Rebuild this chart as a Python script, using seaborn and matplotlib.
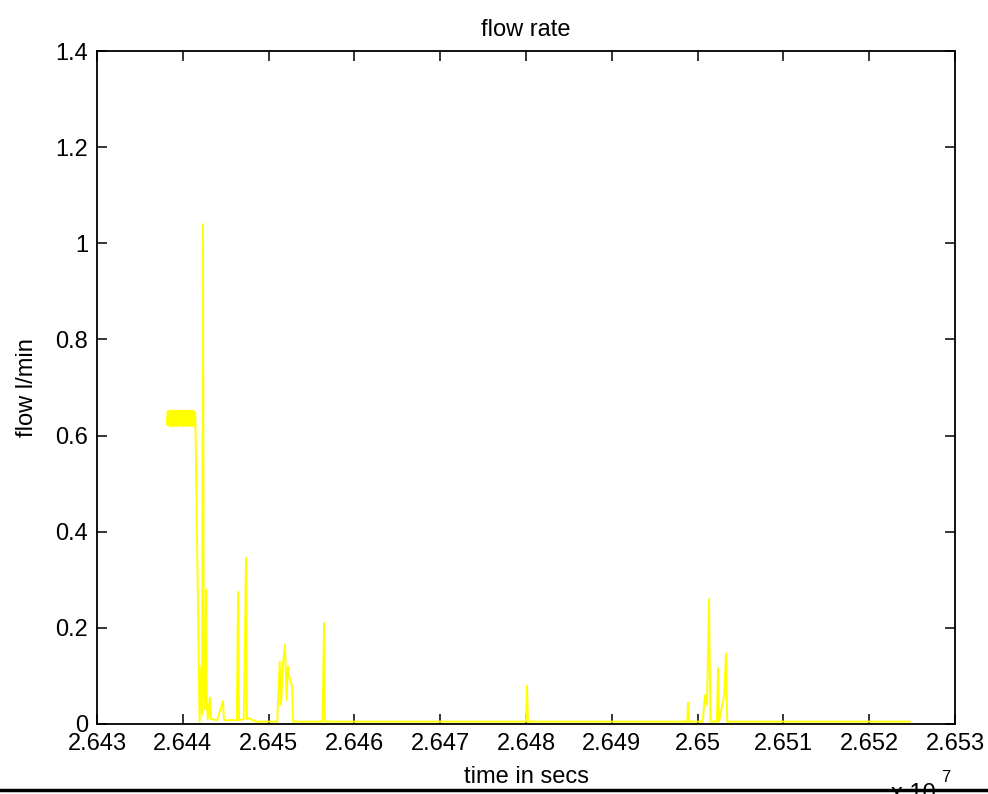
import numpy as np
import pandas as pd
import matplotlib
matplotlib.use("Agg")
import matplotlib.pyplot as plt
from matplotlib.lines import Line2D
import seaborn as sns

# ---- data (time in seconds, flow in l/min) ----
block_start = 26438150
block_step = 48
block_values = [0.636, 0.622, 0.650, 0.624, 0.651, 0.620, 0.649, 0.623, 0.652, 0.621,
                0.650, 0.622, 0.651, 0.619, 0.652, 0.623, 0.649, 0.621, 0.650, 0.620,
                0.652, 0.622, 0.651, 0.621, 0.650, 0.620, 0.649, 0.622, 0.652, 0.621,
                0.650, 0.623, 0.651, 0.620, 0.649, 0.622, 0.652, 0.621, 0.650, 0.619,
                0.651, 0.622, 0.650, 0.621, 0.652, 0.620, 0.649, 0.623, 0.651, 0.621,
                0.650, 0.620, 0.652, 0.622, 0.649, 0.621, 0.651, 0.620, 0.650, 0.622,
                0.652, 0.621, 0.649, 0.620, 0.651, 0.622, 0.650, 0.621, 0.648, 0.640]

rest_times = [26441950, 26442150, 26442250, 26442354, 26442450, 26442550, 26442650,
              26442704, 26442800, 26442900, 26443170, 26443300, 26444000, 26444685,
              26444800, 26446300, 26446434, 26446550, 26447100, 26447250, 26447366,
              26447480, 26447700, 26448500, 26451000, 26451300, 26451445, 26451700,
              26451911, 26452100, 26452250, 26452378, 26452550, 26452727, 26452850,
              26456250, 26456350, 26456457, 26456560, 26480000, 26480117, 26480230,
              26498800, 26498881, 26498960, 26500600, 26500850, 26501100, 26501329,
              26501500, 26502250, 26502378, 26502500, 26503100, 26503310, 26503450,
              26524755]
rest_values = [0.005, 0.12, 0.02, 1.04, 0.05, 0.12, 0.03,
               0.28, 0.06, 0.01, 0.055, 0.01, 0.008, 0.048,
               0.008, 0.008, 0.275, 0.008, 0.01, 0.18, 0.345,
               0.01, 0.012, 0.005, 0.005, 0.13, 0.04, 0.13,
               0.165, 0.05, 0.12, 0.10, 0.09, 0.08, 0.005,
               0.005, 0.07, 0.21, 0.005, 0.005, 0.08, 0.005,
               0.005, 0.045, 0.005, 0.005, 0.06, 0.04, 0.26,
               0.005, 0.005, 0.116, 0.005, 0.06, 0.147, 0.005,
               0.005]

x_ticks = [26430000, 26440000, 26450000, 26460000, 26470000, 26480000,
           26490000, 26500000, 26510000, 26520000, 26530000]
x_tick_labels = ["2.643", "2.644", "2.645", "2.646", "2.647", "2.648",
                 "2.649", "2.65", "2.651", "2.652", "2.653"]
y_ticks = [0, 0.2, 0.4, 0.6, 0.8, 1.0, 1.2, 1.4]
y_tick_labels = ["0", "0.2", "0.4", "0.6", "0.8", "1", "1.2", "1.4"]

block_times = block_start + block_step * np.arange(len(block_values))
df = pd.DataFrame({
    "time": np.concatenate([block_times, rest_times]),
    "flow": np.concatenate([block_values, rest_values]),
})

# ---- plot ----
sns.set_style("white")
plt.rcParams["font.family"] = ["Liberation Sans", "DejaVu Sans"]
plt.rcParams["text.color"] = "black"
plt.rcParams["axes.labelcolor"] = "black"
FS = 17

fig = plt.figure(figsize=(9.88, 7.94), dpi=100)
ax = fig.add_axes([97 / 988, 1 - 724 / 794, (955 - 97) / 988, (724 - 51) / 794])

sns.lineplot(data=df, x="time", y="flow", sort=False, estimator=None,
             color="#ffff00", linewidth=1.4, ax=ax)

ax.set_xlim(26430000, 26530000)
ax.set_ylim(0, 1.4)
ax.set_xticks(x_ticks)
ax.set_xticklabels(x_tick_labels)
ax.set_yticks(y_ticks)
ax.set_yticklabels(y_tick_labels)

for s in ax.spines.values():
    s.set_visible(True)
    s.set_color("black")
    s.set_linewidth(1.3)

ax.tick_params(axis="both", which="major", direction="in", length=7, width=1.1,
               top=True, right=True, bottom=True, left=True,
               labelsize=FS, colors="black", pad=6.5)

ax.set_title("flow rate", fontsize=FS, pad=11, color="black")
ax.set_xlabel("time in secs", fontsize=FS, color="black")
ax.set_ylabel("flow l/min", fontsize=FS, color="black")
ax.xaxis.set_label_coords(0.5, -0.0624)
ax.yaxis.set_label_coords(-0.0688, 0.5)

# exponent marker (partially cut off at the bottom, as in the reference)
fig.text(936 / 988, -0.008, "x 10", fontsize=FS, ha="right", va="baseline")
fig.text(941 / 988, 0.0151, "7", fontsize=12, ha="left", va="baseline")

# dark border line at the bottom of the screenshot
fig.add_artist(Line2D([0, 1], [0.005, 0.005], transform=fig.transFigure,
                      color="black", linewidth=2.5))

fig.savefig("out.png", dpi=100, facecolor="white")
